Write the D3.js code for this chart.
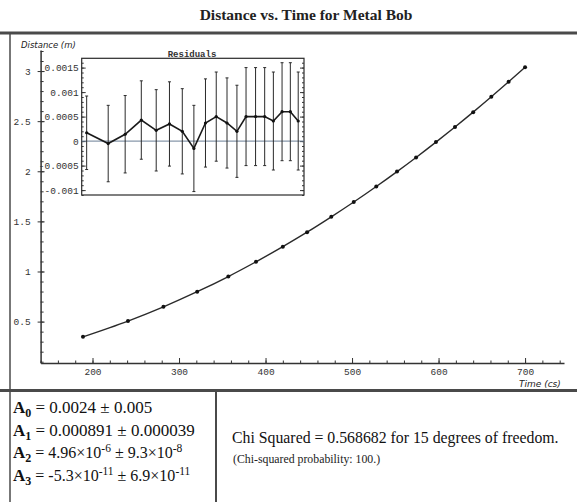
<!DOCTYPE html>
<html>
<head>
<meta charset="utf-8">
<script src="https://cdn.jsdelivr.net/npm/d3@7"></script>
<style>
  body { margin: 0; background: #fff; }
  svg { display: block; }
</style>
</head>
<body>
<svg id="chart" width="577" height="502"></svg>
<script>
// time (cs) and measured distance (m)
const times = [189, 241, 282, 321, 357, 389, 420, 448, 476, 502, 528, 552, 574, 597, 619, 640, 661, 681, 700]
const distances = [0.348, 0.505, 0.647, 0.798, 0.950, 1.097, 1.248, 1.392, 1.545, 1.693, 1.848, 1.997, 2.138, 2.291, 2.442, 2.590, 2.743, 2.893, 3.038]
// residuals of the cubic fit and their error bars
const residuals = [0.00017, -0.00005, 0.00014, 0.00043, 0.00022, 0.00035, 0.0002, -0.00015, 0.00037, 0.0005, 0.00037, 0.0002, 0.0005, 0.0005, 0.0005, 0.00041, 0.0006, 0.0006, 0.00041]
const residualErrors = [0.00075, 0.00078, 0.00079, 0.0008, 0.00083, 0.00086, 0.00087, 0.00088, 0.0009, 0.00091, 0.00092, 0.00094, 0.001, 0.001, 0.001, 0.001, 0.001, 0.001, 0.001]

const xTickValues = [200, 300, 400, 500, 600, 700]
const yTickValues = [0.5, 1, 1.5, 2, 2.5, 3]
const residualTickValues = [-0.001, -0.0005, 0, 0.0005, 0.001, 0.0015]
const residualTickLabels = ['-0.001', '-0.0005', '0', '0.0005', '0.001', '0.0015']

const fitLines = [
  { sub: '0', parts: [['= 0.0024 ± 0.005', 0]] },
  { sub: '1', parts: [['= 0.000891 ± 0.000039', 0]] },
  { sub: '2', parts: [['= 4.96×10', 0], ['-6', 1], [' ± 9.3×10', 0], ['-8', 1]] },
  { sub: '3', parts: [['= -5.3×10', 0], ['-11', 1], [' ± 6.9×10', 0], ['-11', 1]] }
]

const svg = d3.select('#chart')
const mono = 'Liberation Mono, DejaVu Sans Mono, monospace'
const serif = 'Liberation Serif, DejaVu Serif, serif'
const ink = '#333'

// title
svg.append('text')
  .attr('x', 306)
  .attr('y', 20)
  .attr('text-anchor', 'middle')
  .attr('font-family', serif)
  .attr('font-weight', 'bold')
  .attr('font-size', '15.5px')
  .attr('fill', '#222')
  .text('Distance vs. Time for Metal Bob')

// scanned frame lines
const frame = svg.append('g').attr('stroke', '#4a4a4a')
frame.append('line').attr('x1', 0).attr('x2', 577).attr('y1', 33).attr('y2', 33).attr('stroke-width', 3)
frame.append('line').attr('x1', 0).attr('x2', 577).attr('y1', 390.5).attr('y2', 390.5).attr('stroke-width', 3)
frame.append('line').attr('x1', 10).attr('x2', 10).attr('y1', 33).attr('y2', 502).attr('stroke-width', 1.5)
frame.append('line').attr('x1', 216).attr('x2', 216).attr('y1', 392).attr('y2', 502).attr('stroke-width', 2)

// main plot
const x = d3.scaleLinear().domain([140, 745]).range([40.6, 564])
const y = d3.scaleLinear().domain([0.087, 3.21]).range([363, 50])
const xAxisY = y(0.087)
const yAxisX = x(140)

const xMinor = d3.range(140, 745, 20)
const yMinor = d3.range(0.1, 3.21, 0.1)

svg.append('g')
  .attr('transform', `translate(0,${xAxisY})`)
  .call(d3.axisBottom(x).tickValues(xMinor).tickFormat('').tickSizeInner(-2.5).tickSizeOuter(0))
  .call(g => g.select('.domain').remove())
  .call(g => g.selectAll('line').attr('stroke', ink))

svg.append('g')
  .attr('transform', `translate(0,${xAxisY})`)
  .call(d3.axisBottom(x).tickValues(xTickValues).tickSizeInner(-5).tickSizeOuter(0).tickPadding(5))
  .call(g => g.select('.domain').attr('stroke', ink).attr('stroke-width', 1.5))
  .call(g => g.selectAll('line').attr('stroke', ink))
  .call(g => g.selectAll('text').attr('font-family', mono).attr('font-size', '9.5px').attr('fill', '#333'))

svg.append('g')
  .attr('transform', `translate(${yAxisX},0)`)
  .call(d3.axisLeft(y).tickValues(yMinor).tickFormat('').tickSizeInner(-3).tickSizeOuter(0))
  .call(g => g.select('.domain').remove())
  .call(g => g.selectAll('line').attr('stroke', ink))

svg.append('g')
  .attr('transform', `translate(${yAxisX},0)`)
  .call(d3.axisLeft(y).tickValues(yTickValues).tickFormat(d3.format('')).tickSizeInner(3).tickSizeOuter(0).tickPadding(7))
  .call(g => g.select('.domain').attr('stroke', ink).attr('stroke-width', 1.5))
  .call(g => g.selectAll('line').attr('stroke', ink).attr('x2', 4).attr('x1', -3))
  .call(g => g.selectAll('text').attr('font-family', mono).attr('font-size', '9.5px').attr('fill', '#333'))

svg.append('text')
  .attr('x', 21)
  .attr('y', 48)
  .attr('font-family', 'DejaVu Sans, sans-serif')
  .attr('font-style', 'italic')
  .attr('font-size', '8.5px')
  .attr('fill', '#222')
  .text('Distance (m)')

svg.append('text')
  .attr('x', 519)
  .attr('y', 386.5)
  .attr('font-family', 'DejaVu Sans, sans-serif')
  .attr('font-style', 'italic')
  .attr('font-size', '9px')
  .attr('fill', '#222')
  .text('Time (cs)')

const points = times.map((t, i) => [t, distances[i]])

svg.append('path')
  .datum(points)
  .attr('fill', 'none')
  .attr('stroke', '#2a2a2a')
  .attr('stroke-width', 1.4)
  .attr('d', d3.line().x(d => x(d[0])).y(d => y(d[1])).curve(d3.curveMonotoneX))

svg.append('g')
  .selectAll('circle')
  .data(points)
  .join('circle')
  .attr('cx', d => x(d[0]))
  .attr('cy', d => y(d[1]))
  .attr('r', 2)
  .attr('fill', '#111')

// residuals inset
const rx = d3.scaleLinear().domain([177, 714]).range([81.7, 304])
const ry = d3.scaleLinear().domain([-0.0011, 0.00169]).range([195, 58.3])
const inset = svg.append('g')

inset.append('rect')
  .attr('x', rx.range()[0])
  .attr('y', ry.range()[1])
  .attr('width', rx.range()[1] - rx.range()[0])
  .attr('height', ry.range()[0] - ry.range()[1])
  .attr('fill', '#fff')
  .attr('stroke', '#2a2a2a')
  .attr('stroke-width', 1.2)

inset.append('text')
  .attr('x', 192)
  .attr('y', 56.5)
  .attr('text-anchor', 'middle')
  .attr('font-family', mono)
  .attr('font-weight', 'bold')
  .attr('font-size', '9px')
  .attr('fill', '#333')
  .text('Residuals')

const rMinor = d3.range(-0.0011, 0.00169, 0.0001)

inset.append('g')
  .attr('transform', `translate(${rx.range()[0]},0)`)
  .call(d3.axisLeft(ry).tickValues(rMinor).tickFormat('').tickSizeInner(-2).tickSizeOuter(0))
  .call(g => g.select('.domain').remove())
  .call(g => g.selectAll('line').attr('stroke', ink))

inset.append('g')
  .attr('transform', `translate(${rx.range()[0]},0)`)
  .call(d3.axisLeft(ry).tickValues(residualTickValues).tickFormat((d, i) => residualTickLabels[i]).tickSizeInner(-4).tickSizeOuter(0).tickPadding(3))
  .call(g => g.select('.domain').remove())
  .call(g => g.selectAll('line').attr('stroke', ink))
  .call(g => g.selectAll('text').attr('font-family', mono).attr('font-size', '9.5px').attr('fill', '#333'))

inset.append('g')
  .attr('transform', `translate(${rx.range()[1]},0)`)
  .call(d3.axisRight(ry).tickValues(rMinor).tickFormat('').tickSizeInner(-2).tickSizeOuter(0))
  .call(g => g.select('.domain').remove())
  .call(g => g.selectAll('line').attr('stroke', ink))

inset.append('g')
  .attr('transform', `translate(${rx.range()[1]},0)`)
  .call(d3.axisRight(ry).tickValues(residualTickValues).tickFormat('').tickSizeInner(-4).tickSizeOuter(0))
  .call(g => g.select('.domain').remove())
  .call(g => g.selectAll('line').attr('stroke', ink))

inset.append('line')
  .attr('x1', rx.range()[0])
  .attr('x2', rx.range()[1])
  .attr('y1', ry(0))
  .attr('y2', ry(0))
  .attr('stroke', '#6a7f96')
  .attr('stroke-width', 1)

const resData = times.map((t, i) => ({ t, r: residuals[i], e: residualErrors[i] }))

const bars = inset.append('g')
  .attr('stroke', '#2a2a2a')
  .attr('stroke-width', 1)
  .selectAll('g')
  .data(resData)
  .join('g')

bars.append('line')
  .attr('x1', d => rx(d.t))
  .attr('x2', d => rx(d.t))
  .attr('y1', d => ry(d.r + d.e))
  .attr('y2', d => ry(d.r - d.e))

bars.append('line')
  .attr('x1', d => rx(d.t) - 1.5)
  .attr('x2', d => rx(d.t) + 1.5)
  .attr('y1', d => ry(d.r + d.e))
  .attr('y2', d => ry(d.r + d.e))

bars.append('line')
  .attr('x1', d => rx(d.t) - 1.5)
  .attr('x2', d => rx(d.t) + 1.5)
  .attr('y1', d => ry(d.r - d.e))
  .attr('y2', d => ry(d.r - d.e))

inset.append('path')
  .datum(resData)
  .attr('fill', 'none')
  .attr('stroke', '#1a1a1a')
  .attr('stroke-width', 1.6)
  .attr('d', d3.line().x(d => rx(d.t)).y(d => ry(d.r)))

inset.append('g')
  .selectAll('circle')
  .data(resData)
  .join('circle')
  .attr('cx', d => rx(d.t))
  .attr('cy', d => ry(d.r))
  .attr('r', 1.6)
  .attr('fill', '#111')

// fit parameters box
const params = svg.append('g')
  .attr('font-family', serif)
  .attr('fill', '#111')

fitLines.forEach((line, i) => {
  const text = params.append('text')
    .attr('x', 13)
    .attr('y', 413 + i * 22.7)
  text.append('tspan').attr('font-weight', 'bold').attr('font-size', '17px').text('A')
  text.append('tspan').attr('font-weight', 'bold').attr('font-size', '12px').attr('dy', 4).text(line.sub)
  let shift = 4
  line.parts.forEach(([str, sup], j) => {
    const dy = sup ? -6 - shift : -shift
    text.append('tspan')
      .attr('dy', dy)
      .attr('font-size', sup ? '11.5px' : (i > 1 ? '16px' : '17px'))
      .text(j === 0 ? ' ' + str : str)
    shift = sup ? -6 : 0
  })
})

// chi squared box
svg.append('text')
  .attr('x', 232)
  .attr('y', 443)
  .attr('font-family', serif)
  .attr('font-size', '15.8px')
  .attr('fill', '#111')
  .text('Chi Squared = 0.568682 for 15 degrees of freedom.')

svg.append('text')
  .attr('x', 233)
  .attr('y', 463)
  .attr('font-family', serif)
  .attr('font-size', '11.8px')
  .attr('fill', '#222')
  .text('(Chi-squared probability: 100.)')
</script>
</body>
</html>
